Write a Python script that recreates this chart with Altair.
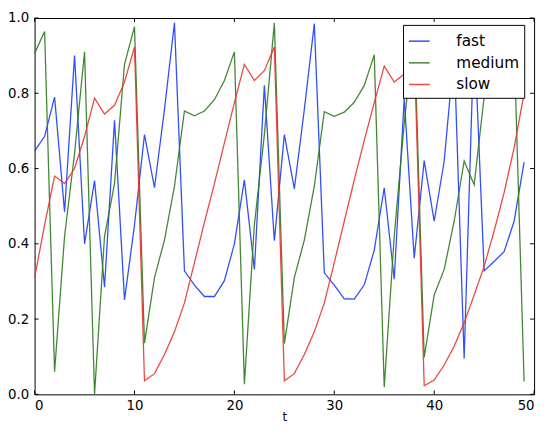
import altair as alt
import pandas as pd

t_values = list(range(50))
fast = [0.647, 0.685, 0.79, 0.485, 0.90, 0.40, 0.568, 0.285, 0.728, 0.251,
        0.45, 0.69, 0.549, 0.757, 0.987, 0.328, 0.29, 0.26, 0.26, 0.302,
        0.40, 0.57, 0.332, 0.821, 0.408, 0.69, 0.546, 0.757, 0.985, 0.323,
        0.29, 0.254, 0.253, 0.291, 0.383, 0.549, 0.306, 0.787, 0.362, 0.621,
        0.46, 0.62, 0.91, 0.095, 0.97, 0.328, 0.353, 0.379, 0.46, 0.617]
medium = [0.906, 0.964, 0.06, 0.42, 0.64, 0.91, 0.0, 0.42, 0.56, 0.877,
          0.977, 0.136, 0.31, 0.41, 0.553, 0.753, 0.74, 0.753, 0.783, 0.834,
          0.91, 0.027, 0.45, 0.69, 0.987, 0.135, 0.31, 0.41, 0.553, 0.751,
          0.739, 0.75, 0.776, 0.821, 0.902, 0.019, 0.42, 0.72, 0.97, 0.098,
          0.264, 0.332, 0.46, 0.62, 0.557, 0.79, 0.80, 0.84, 0.93, 0.034]
slow = [0.31, 0.45, 0.58, 0.56, 0.60, 0.685, 0.787, 0.745, 0.768, 0.83,
        0.923, 0.036, 0.055, 0.106, 0.166, 0.243, 0.35, 0.457, 0.56, 0.668,
        0.775, 0.877, 0.834, 0.86, 0.923, 0.036, 0.055, 0.106, 0.166, 0.243,
        0.35, 0.46, 0.57, 0.675, 0.775, 0.872, 0.83, 0.851, 0.92, 0.023,
        0.038, 0.078, 0.128, 0.19, 0.264, 0.34, 0.434, 0.536, 0.655, 0.80]
series_names = ["fast", "medium", "slow"]
series_colors = ["#1a3cf5", "#2e7a1e", "#e8352f"]
x_ticks = [0, 10, 20, 30, 40, 50]
y_ticks = [0.0, 0.2, 0.4, 0.6, 0.8, 1.0]

rows = []
for name, vals in zip(series_names, [fast, medium, slow]):
    for t, v in zip(t_values, vals):
        rows.append({"t": t, "value": v, "series": name})
df = pd.DataFrame(rows)
xt = pd.DataFrame({"t": x_ticks})
yt = pd.DataFrame({"value": y_ticks})

W, H = 507, 382
FONT = "DejaVu Sans"

xscale = alt.Scale(domain=[0, 50], nice=False, zero=False)
yscale = alt.Scale(domain=[0, 1], nice=False, zero=False)

xaxis = alt.Axis(values=x_ticks, tickSize=0, domain=False, grid=False,
                 labelFontSize=13.5, labelFont=FONT, labelColor="black",
                 labelPadding=4, title="t", titleFont=FONT,
                 titleFontSize=12, titleFontWeight="normal",
                 titleColor="black", titlePadding=0)
yaxis = alt.Axis(values=y_ticks, format=".1f", tickSize=0, domain=False,
                 grid=False, labelFontSize=13.5, labelFont=FONT,
                 labelColor="black", labelPadding=6, title=None)

lines = alt.Chart(df).mark_line(strokeWidth=1.3, opacity=0.9).encode(
    x=alt.X("t:Q", scale=xscale, axis=xaxis),
    y=alt.Y("value:Q", scale=yscale, axis=yaxis),
    color=alt.Color("series:N",
                    scale=alt.Scale(domain=series_names, range=series_colors),
                    legend=alt.Legend(orient="none", legendX=374, legendY=7,
                                      title=None, symbolType="stroke",
                                      symbolSize=441, symbolStrokeWidth=1.5,
                                      labelFontSize=15.5, labelFont=FONT,
                                      labelColor="black", fillColor="white",
                                      strokeColor="black", padding=5,
                                      labelOffset=26, rowPadding=2)),
)

tick_len = 4
xb = alt.Chart(xt).mark_rule(color="black", strokeWidth=1).encode(
    x=alt.X("t:Q", scale=xscale, axis=xaxis), y=alt.value(H), y2=alt.value(H - tick_len))
xtop = alt.Chart(xt).mark_rule(color="black", strokeWidth=1).encode(
    x=alt.X("t:Q", scale=xscale, axis=xaxis), y=alt.value(0), y2=alt.value(tick_len))
yl = alt.Chart(yt).mark_rule(color="black", strokeWidth=1).encode(
    y=alt.Y("value:Q", scale=yscale, axis=yaxis), x=alt.value(0), x2=alt.value(tick_len))
yr = alt.Chart(yt).mark_rule(color="black", strokeWidth=1).encode(
    y=alt.Y("value:Q", scale=yscale, axis=yaxis), x=alt.value(W), x2=alt.value(W - tick_len))

chart = alt.layer(lines, xb, xtop, yl, yr).properties(
    width=W, height=H,
    autosize=alt.AutoSizeParams(type="none"),
    padding={"left": 27, "top": 7, "right": 6, "bottom": 31},
    background="white",
).configure_view(stroke="black", strokeWidth=1)

chart.save("out.html", embed_options={"renderer": "svg", "actions": False})
